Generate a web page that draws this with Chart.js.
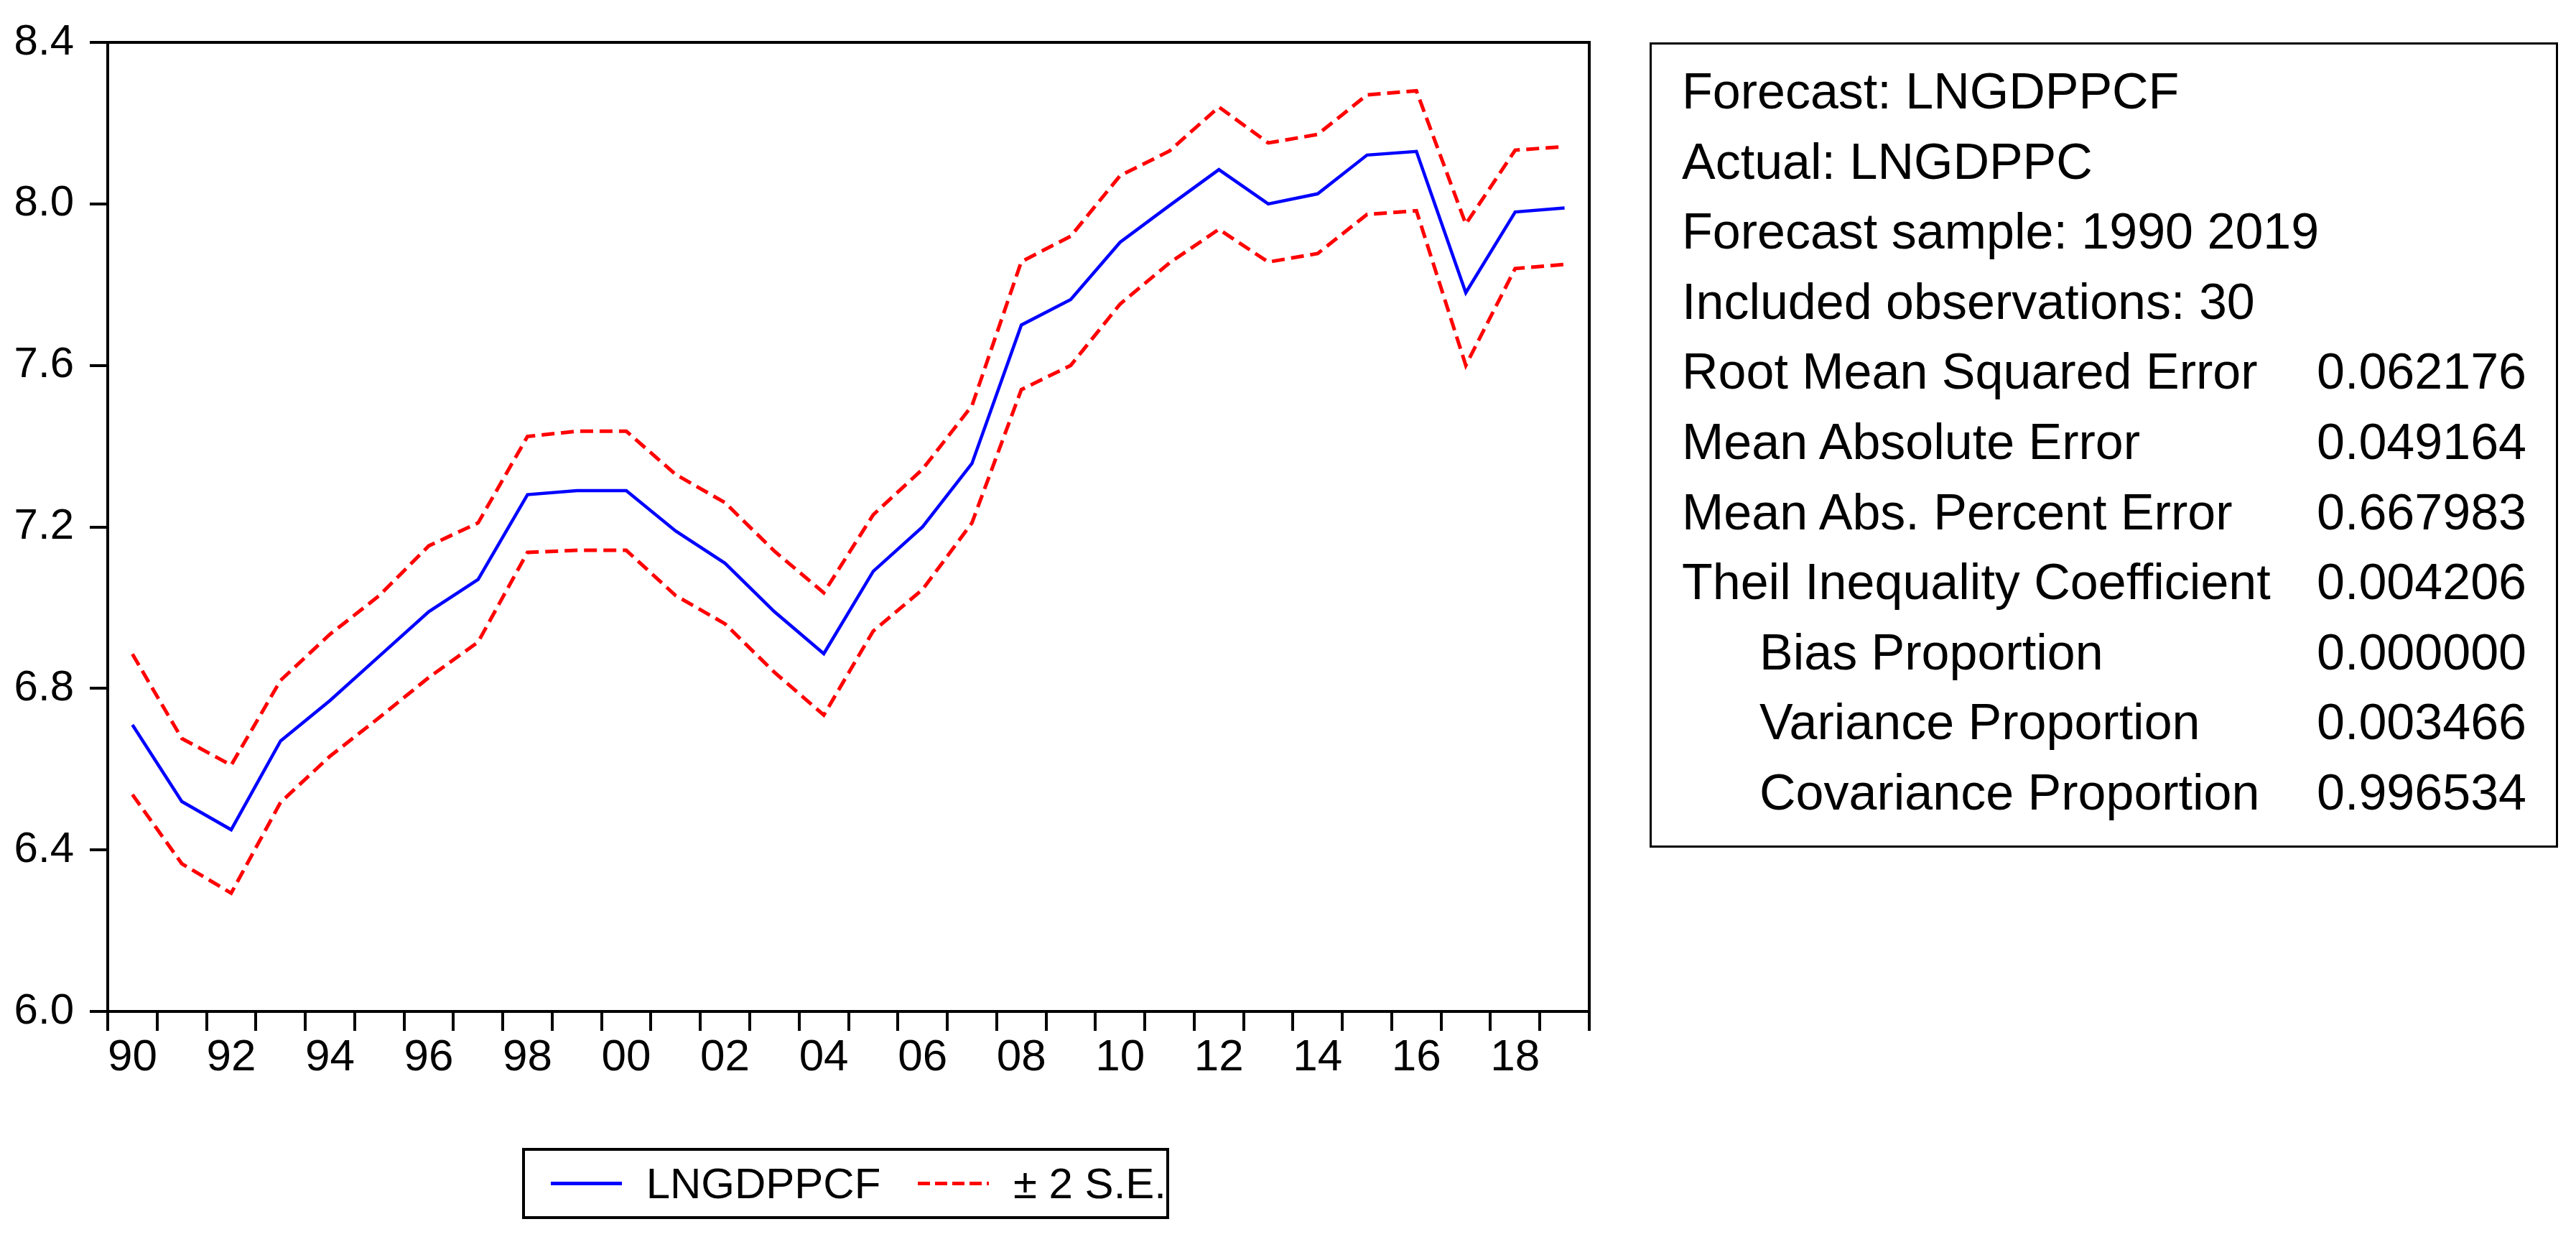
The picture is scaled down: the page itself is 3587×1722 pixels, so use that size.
<!DOCTYPE html>
<html>
<head>
<meta charset="utf-8">
<script src="https://cdn.jsdelivr.net/npm/chart.js@4.4.1/dist/chart.umd.min.js"></script>
<style>
  html, body { margin: 0; padding: 0; background: #fff; }
  body { width: 3587px; height: 1722px; position: relative; overflow: hidden;
         font-family: "Liberation Sans", Arial, sans-serif; color: #000; }
  #chartWrap { position: absolute; left: 0; top: 0; width: 2300px; height: 1722px; }
  .stats-box { position: absolute; left: 2297px; top: 59px; width: 1265px; height: 1121px;
               box-sizing: border-box; border: 3px solid #000; padding: 17px 41px 0 42px;
               font-size: 70px; line-height: 97.6px; }
  .stats-row { display: flex; justify-content: space-between; white-space: nowrap; }
  .stats-row.indent .stats-label { padding-left: 108px; }
  .legend-box { position: absolute; left: 727px; top: 1598px; width: 901px; height: 99px;
                box-sizing: border-box; border: 4px solid #000; font-size: 60px;
                display: flex; align-items: center; white-space: nowrap; }
  .legend-swatch { display: inline-block; width: 113px; height: 5px; }
  .legend-text { display: inline-block; }
</style>
</head>
<body>
<div id="chartWrap"><canvas id="fcChart"></canvas></div>
<div class="stats-box" id="statsBox"></div>
<div class="legend-box" id="legendBox"></div>

<script>
/* ── Data ────────────────────────────────────────────────── */
const years = [
  1990, 1991, 1992, 1993, 1994, 1995, 1996, 1997, 1998, 1999,
  2000, 2001, 2002, 2003, 2004, 2005, 2006, 2007, 2008, 2009,
  2010, 2011, 2012, 2013, 2014, 2015, 2016, 2017, 2018, 2019,
];

// LNGDPPCF forecast
const forecast = [
  6.71, 6.52, 6.45, 6.67, 6.77, 6.88, 6.99, 7.07, 7.28, 7.29,
  7.29, 7.19, 7.11, 6.99, 6.886, 7.09, 7.20, 7.357, 7.70, 7.763,
  7.905, 7.996, 8.085, 8.00, 8.025, 8.121, 8.13, 7.78, 7.98, 7.99,
];

// forecast + 2 S.E.
const upperBand = [
  6.885, 6.676, 6.61, 6.82, 6.934, 7.03, 7.153, 7.21, 7.424, 7.437,
  7.437, 7.33, 7.26, 7.14, 7.037, 7.23, 7.343, 7.50, 7.857, 7.92,
  8.07, 8.131, 8.24, 8.151, 8.172, 8.27, 8.28, 7.95, 8.133, 8.142,
];

// forecast - 2 S.E.
const lowerBand = [
  6.537, 6.366, 6.293, 6.518, 6.632, 6.728, 6.827, 6.915, 7.137, 7.142,
  7.142, 7.03, 6.96, 6.84, 6.734, 6.942, 7.045, 7.21, 7.54, 7.60,
  7.752, 7.854, 7.937, 7.856, 7.877, 7.974, 7.983, 7.60, 7.84, 7.85,
];

const yMin = 6.0;
const yMax = 8.4;
const yStep = 0.4;

// Forecast evaluation table
const statLabels = [
  "Forecast: LNGDPPCF",
  "Actual: LNGDPPC",
  "Forecast sample: 1990 2019",
  "Included observations: 30",
  "Root Mean Squared Error",
  "Mean Absolute Error",
  "Mean Abs. Percent Error",
  "Theil Inequality Coefficient",
  "Bias Proportion",
  "Variance Proportion",
  "Covariance Proportion",
];
const statValues = ["", "", "", "", "0.062176", "0.049164", "0.667983", "0.004206", "0.000000", "0.003466", "0.996534"];
const statIndented = [false, false, false, false, false, false, false, false, true, true, true];

/* ── Styling ─────────────────────────────────────────────── */
const FONT = '"Liberation Sans", Arial, sans-serif';
const BLUE = "#0000ff";
const RED = "#ff0000";
const DASH = [18, 9];
const AXIS_W = 4;

/* ── Helpers ─────────────────────────────────────────────── */

/** Two-digit year label, only every other year. */
function yearTick(idx) {
  return idx % 2 === 0 ? String(years[idx]).slice(2) : "";
}

/** Draws the top and right edges of the plot frame. */
const framePlugin = {
  id: "frame",
  afterDraw(chart) {
    const { ctx, chartArea: a } = chart;
    ctx.save();
    ctx.strokeStyle = "#000";
    ctx.lineWidth = AXIS_W;
    ctx.beginPath();
    ctx.moveTo(a.left, a.top);
    ctx.lineTo(a.right, a.top);
    ctx.lineTo(a.right, a.bottom);
    ctx.stroke();
    ctx.restore();
  },
};

/* ── Chart ───────────────────────────────────────────────── */
Chart.defaults.font.family = FONT;
Chart.defaults.color = "#000";

const datasets = [
  {
    label: "LNGDPPCF",
    data: forecast,
    borderColor: BLUE,
    borderWidth: 4.5,
    pointRadius: 0,
    tension: 0,
    fill: false,
  },
  {
    label: "± 2 S.E.",
    data: upperBand,
    borderColor: RED,
    borderWidth: 5,
    borderDash: DASH,
    pointRadius: 0,
    tension: 0,
    fill: false,
  },
  {
    label: "± 2 S.E.",
    data: lowerBand,
    borderColor: RED,
    borderWidth: 5,
    borderDash: DASH,
    pointRadius: 0,
    tension: 0,
    fill: false,
  },
];

const chart = new Chart(document.getElementById("fcChart"), {
  type: "line",
  data: { labels: years.map(String), datasets },
  plugins: [framePlugin],
  options: {
    responsive: true,
    maintainAspectRatio: false,
    animation: false,
    devicePixelRatio: 1,
    layout: { padding: { top: 59, right: 87, bottom: 114, left: 0 } },
    plugins: {
      legend: { display: false },
      tooltip: { enabled: false },
    },
    scales: {
      x: {
        type: "category",
        offset: true,
        afterFit: (s) => { s.height = 200; },
        border: { display: true, color: "#000", width: AXIS_W },
        grid: {
          offset: true,
          drawOnChartArea: false,
          drawTicks: true,
          tickLength: 27,
          color: "#000",
          lineWidth: AXIS_W,
        },
        ticks: {
          autoSkip: false,
          maxRotation: 0,
          minRotation: 0,
          padding: 1,
          font: { size: 62 },
          callback: (val, idx) => yearTick(idx),
        },
      },
      y: {
        min: yMin,
        max: yMax,
        afterFit: (s) => { s.width = 150; },
        border: { display: true, color: "#000", width: AXIS_W },
        grid: {
          drawOnChartArea: false,
          drawTicks: true,
          tickLength: 25,
          color: "#000",
          lineWidth: AXIS_W,
        },
        ticks: {
          stepSize: yStep,
          padding: 22,
          font: { size: 60 },
          callback: (v) => Number(v).toFixed(1),
        },
      },
    },
  },
});

/* ── Stats table (HTML text) ─────────────────────────────── */
const statsBox = document.getElementById("statsBox");
statLabels.forEach((label, i) => {
  const row = document.createElement("div");
  row.className = "stats-row" + (statIndented[i] ? " indent" : "");
  const l = document.createElement("span");
  l.className = "stats-label";
  l.textContent = label;
  const v = document.createElement("span");
  v.className = "stats-value";
  v.textContent = statValues[i];
  row.append(l, v);
  statsBox.append(row);
});

/* ── Legend (HTML) ───────────────────────────────────────── */
const legendBox = document.getElementById("legendBox");
const legendItems = [
  { text: datasets[0].label, color: BLUE, dashed: false, gapBefore: 36 },
  { text: datasets[1].label, color: RED, dashed: true, gapBefore: 52 },
];
for (const item of legendItems) {
  const sw = document.createElement("span");
  sw.className = "legend-swatch";
  sw.style.marginLeft = item.gapBefore + "px";
  sw.style.marginRight = "34px";
  sw.style.background = item.dashed
    ? `repeating-linear-gradient(to right, ${item.color} 0 17px, transparent 17px 24px)`
    : item.color;
  const tx = document.createElement("span");
  tx.className = "legend-text";
  tx.textContent = item.text;
  legendBox.append(sw, tx);
}
</script>
</body>
</html>
